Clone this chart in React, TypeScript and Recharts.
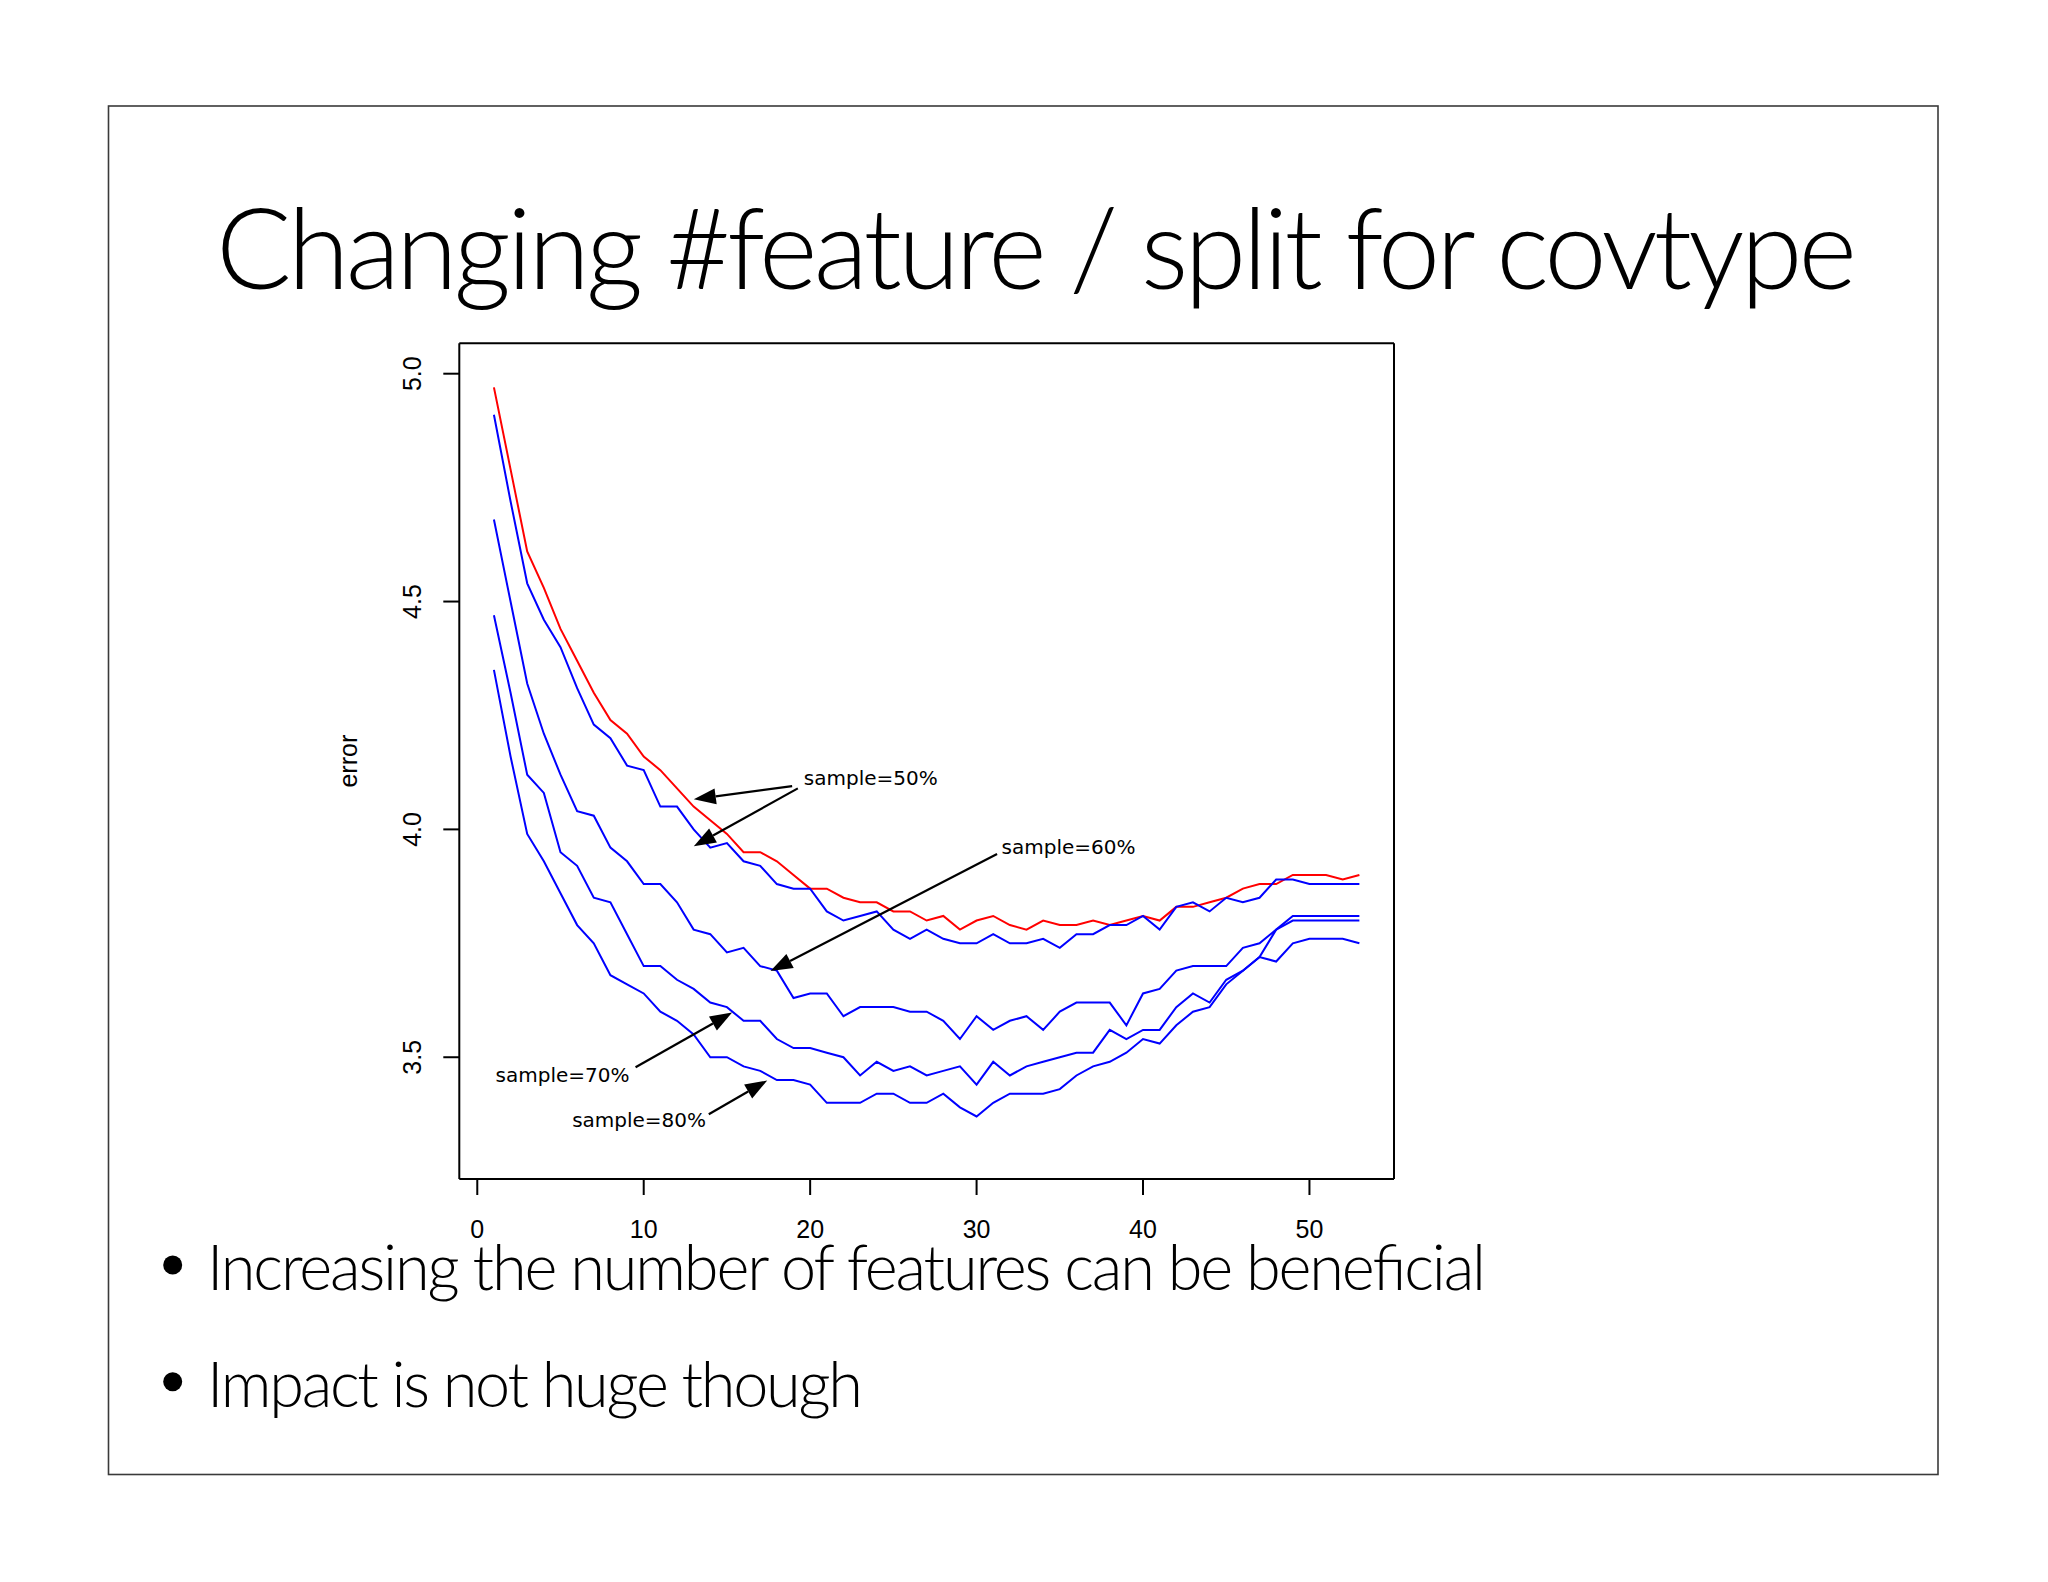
import React from 'react';
import { LineChart, Line, XAxis, YAxis, ReferenceLine, ReferenceDot } from 'recharts';

// features tried per split (x) and error for each sampling rate
const features = [
  1, 2, 3, 4, 5, 6, 7, 8, 9, 10, 11, 12, 13, 14, 15, 16, 17, 18, 19, 20, 21, 22, 23, 24, 25, 26, 27,
  28, 29, 30, 31, 32, 33, 34, 35, 36, 37, 38, 39, 40, 41, 42, 43, 44, 45, 46, 47, 48, 49, 50, 51, 52, 53,
];

const errRed = [
  4.97, 4.79, 4.61, 4.53, 4.44, 4.37, 4.3, 4.24, 4.21, 4.16, 4.13, 4.09, 4.05, 4.02, 3.99, 3.95, 3.95,
  3.93, 3.9, 3.87, 3.87, 3.85, 3.84, 3.84, 3.82, 3.82, 3.8, 3.81, 3.78, 3.8, 3.81, 3.79, 3.78, 3.8, 3.79,
  3.79, 3.8, 3.79, 3.8, 3.81, 3.8, 3.83, 3.83, 3.84, 3.85, 3.87, 3.88, 3.88, 3.9, 3.9, 3.9, 3.89, 3.9,
];

const err50 = [
  4.91, 4.72, 4.54, 4.46, 4.4, 4.31, 4.23, 4.2, 4.14, 4.13, 4.05, 4.05, 4.0, 3.96, 3.97, 3.93, 3.92,
  3.88, 3.87, 3.87, 3.82, 3.8, 3.81, 3.82, 3.78, 3.76, 3.78, 3.76, 3.75, 3.75, 3.77, 3.75, 3.75, 3.76,
  3.74, 3.77, 3.77, 3.79, 3.79, 3.81, 3.78, 3.83, 3.84, 3.82, 3.85, 3.84, 3.85, 3.89, 3.89, 3.88, 3.88,
  3.88, 3.88,
];

const err60 = [
  4.68, 4.5, 4.32, 4.21, 4.12, 4.04, 4.03, 3.96, 3.93, 3.88, 3.88, 3.84, 3.78, 3.77, 3.73, 3.74, 3.7,
  3.69, 3.63, 3.64, 3.64, 3.59, 3.61, 3.61, 3.61, 3.6, 3.6, 3.58, 3.54, 3.59, 3.56, 3.58, 3.59, 3.56,
  3.6, 3.62, 3.62, 3.62, 3.57, 3.64, 3.65, 3.69, 3.7, 3.7, 3.7, 3.74, 3.75, 3.78, 3.81, 3.81, 3.81,
  3.81, 3.81,
];

const err70 = [
  4.47, 4.3, 4.12, 4.08, 3.95, 3.92, 3.85, 3.84, 3.77, 3.7, 3.7, 3.67, 3.65, 3.62, 3.61, 3.58, 3.58,
  3.54, 3.52, 3.52, 3.51, 3.5, 3.46, 3.49, 3.47, 3.48, 3.46, 3.47, 3.48, 3.44, 3.49, 3.46, 3.48, 3.49,
  3.5, 3.51, 3.51, 3.56, 3.54, 3.56, 3.56, 3.61, 3.64, 3.62, 3.67, 3.69, 3.72, 3.78, 3.8, 3.8, 3.8,
  3.8, 3.8,
];

const err80 = [
  4.35, 4.16, 3.99, 3.93, 3.86, 3.79, 3.75, 3.68, 3.66, 3.64, 3.6, 3.58, 3.55, 3.5, 3.5, 3.48, 3.47,
  3.45, 3.45, 3.44, 3.4, 3.4, 3.4, 3.42, 3.42, 3.4, 3.4, 3.42, 3.39, 3.37, 3.4, 3.42, 3.42, 3.42, 3.43,
  3.46, 3.48, 3.49, 3.51, 3.54, 3.53, 3.57, 3.6, 3.61, 3.66, 3.69, 3.72, 3.71, 3.75, 3.76, 3.76, 3.76,
  3.75,
];

const xTicks = [0, 10, 20, 30, 40, 50];
const yTicks = [3.5, 4.0, 4.5, 5.0];

// annotation text (anchored at the text's left baseline)
const notes = [
  { text: 'sample=50%', x: 19.62, y: 4.097 },
  { text: 'sample=60%', x: 31.5, y: 3.945 },
  { text: 'sample=70%', x: 1.1, y: 3.445 },
  { text: 'sample=80%', x: 5.7, y: 3.346 },
];

// arrows from the labels to the curves
const arrows = [
  { from: [18.92, 4.095], to: [13.01, 4.066] },
  { from: [19.26, 4.09], to: [13.01, 3.963] },
  { from: [31.23, 3.946], to: [17.62, 3.689] },
  { from: [9.51, 3.478], to: [15.31, 3.598] },
  { from: [13.91, 3.375], to: [17.42, 3.449] },
];

const data = features.map((f, i) => ({
  f,
  red: errRed[i],
  s50: err50[i],
  s60: err60[i],
  s70: err70[i],
  s80: err80[i],
}));

const AXIS_FONT = '"Liberation Sans", Arial, Helvetica, sans-serif';
const SLIDE_FONT = 'Lato, "Open Sans", sans-serif';

const XTick = (props: any) => (
  <text x={props.x} y={props.y + 42.7} textAnchor="middle" fontFamily={AXIS_FONT} fontSize={25} fill="#000">
    {props.payload.value}
  </text>
);

const YTick = (props: any) => {
  const bx = props.x - 22.5;
  return (
    <text
      x={bx}
      y={props.y}
      transform={`rotate(-90, ${bx}, ${props.y})`}
      textAnchor="middle"
      fontFamily={AXIS_FONT}
      fontSize={25}
      fill="#000"
    >
      {Number(props.payload.value).toFixed(1)}
    </text>
  );
};

const ErrorLabel = (props: any) => {
  const vb = props.viewBox || { x: 19, y: 43, width: 140, height: 836 };
  const bx = vb.x + vb.width - 102;
  const cy = vb.y + vb.height / 2;
  return (
    <text x={bx} y={cy} transform={`rotate(-90, ${bx}, ${cy})`} textAnchor="middle" fontFamily={AXIS_FONT} fontSize={25} fill="#000">
      error
    </text>
  );
};

const Arrow = (props: any) => {
  const { x1, y1, x2, y2 } = props;
  const ang = Math.atan2(y2 - y1, x2 - x1);
  const len = 22;
  const half = 8;
  const bx = x2 - len * Math.cos(ang);
  const by = y2 - len * Math.sin(ang);
  const px = -Math.sin(ang) * half;
  const py = Math.cos(ang) * half;
  return (
    <g>
      <line x1={x1} y1={y1} x2={bx} y2={by} stroke="#000" strokeWidth={2.2} />
      <polygon points={`${x2},${y2} ${bx + px},${by + py} ${bx - px},${by - py}`} fill="#000" />
    </g>
  );
};

const noteShape = (text: string) => (p: any) => (
  <text x={p.cx} y={p.cy} fontFamily='"DejaVu Sans", sans-serif' fontSize={20} fill="#000">
    {text}
  </text>
);

const lineProps = {
  xAxisId: 'b',
  yAxisId: 'l',
  type: 'linear' as const,
  dot: false,
  activeDot: false,
  strokeWidth: 2,
  isAnimationActive: false,
};

export default function App() {
  return (
    <div style={{ position: 'absolute', left: 0, top: 0, width: 2048, height: 1582, background: '#fff' }}>
      <svg width={2048} height={1582} style={{ position: 'absolute', left: 0, top: 0 }}>
        <rect x={108.5} y={106} width={1829.5} height={1368.5} fill="none" stroke="#3a3a3a" strokeWidth={1.6} />
        <text x={216} y={289} fontFamily={SLIDE_FONT} fontWeight={300} fontSize={112} fill="#000" textLength={1641} lengthAdjust="spacing">
          Changing #feature / split for covtype
        </text>
        <circle cx={172.7} cy={1265} r={9.5} fill="#000" />
        <text x={207} y={1290} fontFamily={SLIDE_FONT} fontWeight={300} fontSize={63} fill="#000" textLength={1279} lengthAdjust="spacing">
          Increasing the number of features can be beneficial
        </text>
        <circle cx={172.7} cy={1381.7} r={9.5} fill="#000" />
        <text x={207} y={1406.7} fontFamily={SLIDE_FONT} fontWeight={300} fontSize={63} fill="#000" textLength={656} lengthAdjust="spacing">
          Impact is not huge though
        </text>
      </svg>
      <div style={{ position: 'absolute', left: 300, top: 300 }}>
        <LineChart width={1150} height={1000} data={data} margin={{ top: 33.3, right: 46, bottom: 41, left: 19.3 }}>
          <XAxis
            xAxisId="b"
            dataKey="f"
            type="number"
            domain={[-1.08, 55.08]}
            allowDataOverflow
            ticks={xTicks}
            interval={0}
            height={80}
            tickSize={16}
            tickMargin={0}
            stroke="#000"
            strokeWidth={2}
            tick={<XTick />}
          />
          <XAxis
            xAxisId="t"
            orientation="top"
            type="number"
            domain={[-1.08, 55.08]}
            allowDataOverflow
            height={10}
            tick={false}
            tickLine={false}
            stroke="#000"
            strokeWidth={2}
          />
          <YAxis
            yAxisId="l"
            type="number"
            domain={[3.2328, 5.0667]}
            allowDataOverflow
            ticks={yTicks}
            interval={0}
            width={140}
            tickSize={16}
            tickMargin={0}
            stroke="#000"
            strokeWidth={2}
            tick={<YTick />}
            label={<ErrorLabel />}
          />
          <YAxis
            yAxisId="r"
            orientation="right"
            type="number"
            domain={[3.2328, 5.0667]}
            allowDataOverflow
            width={10}
            tick={false}
            tickLine={false}
            stroke="#000"
            strokeWidth={2}
          />
          <Line {...lineProps} dataKey="red" stroke="#ff0000" />
          <Line {...lineProps} dataKey="s50" stroke="#0000ff" />
          <Line {...lineProps} dataKey="s60" stroke="#0000ff" />
          <Line {...lineProps} dataKey="s70" stroke="#0000ff" />
          <Line {...lineProps} dataKey="s80" stroke="#0000ff" />
          {arrows.map((a, i) => (
            <ReferenceLine
              key={`arrow-${i}`}
              xAxisId="b"
              yAxisId="l"
              segment={[
                { x: a.from[0], y: a.from[1] },
                { x: a.to[0], y: a.to[1] },
              ]}
              shape={Arrow}
            />
          ))}
          {notes.map((n) => (
            <ReferenceDot key={n.text} xAxisId="b" yAxisId="l" x={n.x} y={n.y} r={1} shape={noteShape(n.text)} />
          ))}
        </LineChart>
      </div>
    </div>
  );
}
